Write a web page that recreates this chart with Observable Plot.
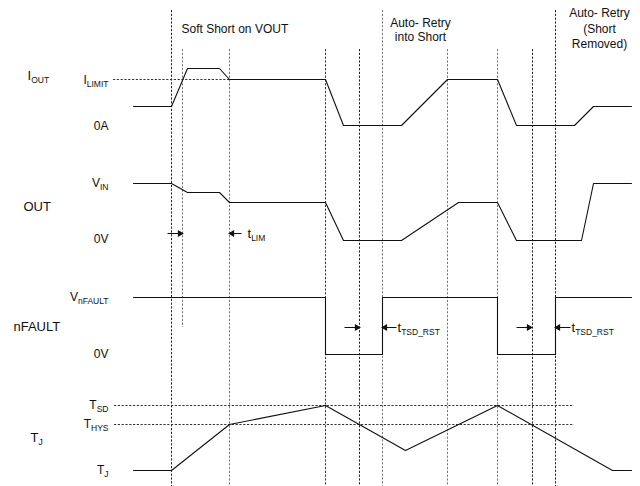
<!DOCTYPE html>
<html><head><meta charset="utf-8">
<script src="https://cdn.jsdelivr.net/npm/d3@7"></script>
<script src="https://cdn.jsdelivr.net/npm/@observablehq/plot@0.6"></script>
<style>
body{margin:0;background:#fff}
#chart svg{display:block;font-family:"Liberation Sans",Arial,sans-serif}
</style>
</head><body><div id="chart"></div>
<script>
// Waveforms: [time, level] in diagram units
const ioutWave = [[133,106],[171,106],[187,68],[219,68],[229,79],[325,79],[343,125],[401,125],[447,79],[497,79],[516,125],[574,125],[593,106],[631,106]];
const outWave = [[133,183],[171,183],[187,192],[219,192],[229,202],[325,202],[343,240],[401,240],[458,202],[497,202],[516,240],[581,240],[593,183],[631,183]];
const nfaultWave = [[133,297],[325,297],[325,354],[382,354],[382,297],[497,297],[497,354],[555,354],[555,297],[631,297]];
const tjWave = [[133,470],[171,470],[229,424],[325,405],[405,450],[497,405],[612,470],[631,470]];

// Event markers (vertical dashed lines)
const markerT      = [171, 182, 229, 325, 359, 382, 447, 497, 532, 555];
const markerTop    = [10, 49, 49, 49, 49, 10, 49, 49, 49, 10];
const markerBottom = [486, 327, 486, 486, 486, 486, 486, 486, 486, 486];
const markerTone   = ["#222", "#777", "#777", "#333", "#222", "#777", "#777", "#777", "#222", "#222"];

// Threshold references (horizontal dashed lines)
const refLevel = [79, 405, 424];
const refStart = [113, 114, 114];
const refEnd   = [229, 574, 574];

// Timing arrows: tail -> tip
const arrowTail = [167, 241, 344, 396, 516, 570];
const arrowTip  = [182, 229, 359, 382, 531, 555];
const arrowLevel = [233, 233, 327, 327, 327, 327];

// Labels ("|" separates subscript)
const levelLabels = ["I|LIMIT", "0A", "V|IN", "0V", "V|nFAULT", "0V", "T|SD", "T|HYS", "T|J"];
const levelLabelY = [80, 126, 183, 239, 297, 354, 405, 424, 470];
const signalLabels = ["I|OUT", "OUT", "nFAULT", "T|J"];
const signalLabelX = [27, 23, 13, 30];
const signalLabelY = [75, 206, 326, 437];
const timingLabels = ["t|LIM", "t|TSD_RST", "t|TSD_RST"];
const timingLabelX = [247, 397, 571];
const timingLabelY = [233, 327, 327];
const phaseLabels = ["Soft Short on VOUT", "Auto- Retry", "into Short", "Auto- Retry", "(Short", "Removed)"];
const phaseLabelX = [181, 420, 420, 599, 599, 599];
const phaseLabelY = [29, 23, 37, 13, 29, 44];
const phaseAnchor = ["start", "middle", "middle", "middle", "middle", "middle"];

const markers = markerT.map((t, i) => ({t, y1: markerTop[i], y2: markerBottom[i], c: markerTone[i]}));
const refs = refLevel.map((v, i) => ({v, x1: refStart[i], x2: refEnd[i]}));
const arrows = arrowTail.map((a, i) => ({a, b: arrowTip[i], y: arrowLevel[i], dir: Math.sign(arrowTip[i] - a)}));
const lv = levelLabels.map((s, i) => ({s, y: levelLabelY[i]}));
const sg = signalLabels.map((s, i) => ({s, x: signalLabelX[i], y: signalLabelY[i]}));
const tm = timingLabels.map((s, i) => ({s, x: timingLabelX[i], y: timingLabelY[i]}));
const ph = phaseLabels.map((s, i) => ({s, x: phaseLabelX[i], y: phaseLabelY[i], a: phaseAnchor[i]}));

const waveMark = (w) => Plot.line(w, {x: d => d[0], y: d => d[1], stroke: "#111", strokeWidth: 1.1});

const chart = Plot.plot({
  width: 640, height: 486, margin: 0,
  x: {domain: [0, 640], range: [0, 640], axis: null},
  y: {domain: [0, 486], range: [0, 486], axis: null},
  style: {fontFamily: '"Liberation Sans", Arial, sans-serif', fontSize: "12px", background: "#fff"},
  marks: [
    Plot.ruleX(markers, {x: "t", y1: "y1", y2: "y2", stroke: "c", strokeWidth: 1, strokeDasharray: "2.2,1.6"}),
    Plot.ruleY(refs, {y: "v", x1: "x1", x2: "x2", stroke: "#333", strokeWidth: 1, strokeDasharray: "2.2,1.6"}),
    waveMark(ioutWave),
    waveMark(outWave),
    waveMark(nfaultWave),
    waveMark(tjWave),
    Plot.link(arrows, {x1: "a", x2: d => d.b - d.dir * 3, y1: "y", y2: "y", stroke: "#111", strokeWidth: 1}),
    Plot.dot(arrows, {x: d => d.b - d.dir * 2.6, y: "y", symbol: "triangle", r: 2.6, fill: "#111", stroke: "none", rotate: d => d.dir > 0 ? 90 : -90}),
    Plot.text(lv, {x: 108, y: "y", text: "s", textAnchor: "end", fill: "#111"}),
    Plot.text(sg, {x: "x", y: "y", text: "s", textAnchor: "start", fill: "#111", fontSize: 13}),
    Plot.text(tm, {x: "x", y: "y", text: "s", textAnchor: "start", fill: "#111", fontSize: 13}),
    Plot.text(ph.filter(d => d.a === "start"), {x: "x", y: "y", text: "s", textAnchor: "start", fill: "#111"}),
    Plot.text(ph.filter(d => d.a === "middle"), {x: "x", y: "y", text: "s", textAnchor: "middle", fill: "#111"})
  ]
});

// Convert "base|sub" texts into subscript tspans
chart.querySelectorAll("text").forEach(el => {
  const s = el.textContent;
  const i = s.indexOf("|");
  if (i < 0) return;
  el.textContent = "";
  const ns = "http://www.w3.org/2000/svg";
  const b = document.createElementNS(ns, "tspan");
  b.textContent = s.slice(0, i);
  const sub = document.createElementNS(ns, "tspan");
  sub.textContent = s.slice(i + 1);
  sub.setAttribute("font-size", "8.5");
  sub.setAttribute("dy", "3");
  el.appendChild(b);
  el.appendChild(sub);
});

document.getElementById("chart").appendChild(chart);
</script>
</body></html>
